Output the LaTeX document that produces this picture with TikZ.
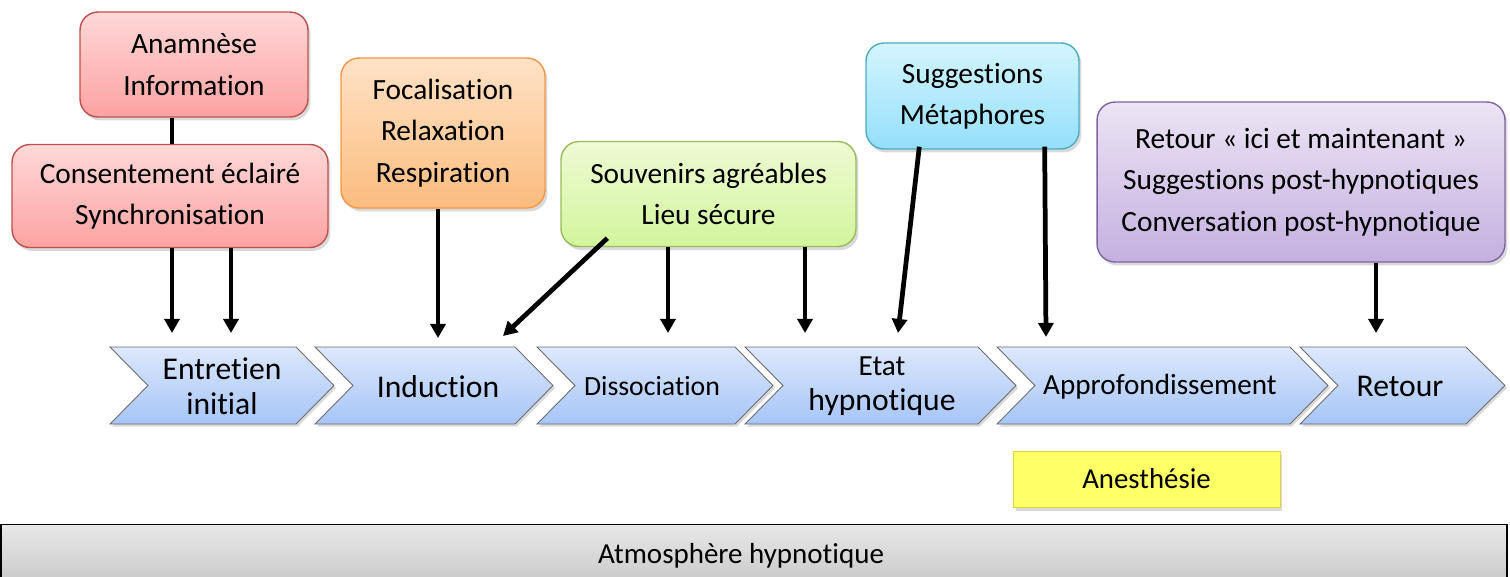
\documentclass[tikz,border=0pt]{standalone}
\usepackage{fontspec}
\setmainfont{Carlito}[Ligatures=NoCommon]
\usepackage{tikz}
\usetikzlibrary{positioning,shadows,arrows.meta,calc}
\usepackage{xcolor}
\definecolor{rougeH}{HTML}{FFD8D8}
\definecolor{rougeB}{HTML}{FCA2A2}
\definecolor{rougeT}{HTML}{C0504D}
\definecolor{orangeH}{HTML}{FFE2C6}
\definecolor{orangeB}{HTML}{FBBC7E}
\definecolor{orangeT}{HTML}{F79646}
\definecolor{vertH}{HTML}{EEFAD4}
\definecolor{vertB}{HTML}{D2F59C}
\definecolor{vertT}{HTML}{9BBB59}
\definecolor{cyanH}{HTML}{D4F5FF}
\definecolor{cyanB}{HTML}{94DFFA}
\definecolor{cyanT}{HTML}{4BACC6}
\definecolor{violetH}{HTML}{ECE4F4}
\definecolor{violetB}{HTML}{C4B0E0}
\definecolor{violetT}{HTML}{8064A2}
\definecolor{bleuH}{HTML}{DDE8FC}
\definecolor{bleuB}{HTML}{A6C5F7}
\definecolor{jaune}{HTML}{FFFF66}
\tikzstyle{bloc}=[rectangle, rounded corners=0.36cm, line width=0.8pt, inner sep=0pt,
text centered, align=center, font=\fontsize{16.7}{23.6}\selectfont,
drop shadow={opacity=0.3, shadow xshift=0.05cm, shadow yshift=-0.07cm}]
\tikzstyle{chevron}=[draw=gray!85!black, line width=0.5pt, top color=bleuH, bottom color=bleuB,
drop shadow={opacity=0.3, shadow xshift=0.04cm, shadow yshift=-0.05cm}]
\tikzstyle{etape}=[inner sep=0pt, align=center, font=\fontsize{18}{20}\selectfont]
\tikzstyle{fleche}=[->, >={Triangle[length=8pt,width=8.5pt]}, line width=2.7pt]

\begin{document}
\begin{tikzpicture}[x=0.02cm, y=-0.02cm]
        \useasboundingbox (0,0) rectangle (1510,576);

        % bandeau du bas
        \node (atmo)[draw=black, line width=0.8pt, top color=gray!18, bottom color=gray!45,
                minimum width=30.12cm, minimum height=1.3cm, font=\fontsize{16.5}{20}\selectfont]
                at (754,557) {};
        \node (atmot)[font=\fontsize{16.5}{20}\selectfont] at (741,556) {Atmosphère hypnotique};

        % etapes
        \draw[chevron] (110,347) -- (296,347) -- (334,385.5) -- (296,424) -- (110,424) -- (148,385.5) -- cycle;
        \draw[chevron] (315,347) -- (515,347) -- (553,385.5) -- (515,424) -- (315,424) -- (353,385.5) -- cycle;
        \draw[chevron] (537,347) -- (735,347) -- (773,385.5) -- (735,424) -- (537,424) -- (575,385.5) -- cycle;
        \draw[chevron] (745,347) -- (978,347) -- (1016,385.5) -- (978,424) -- (745,424) -- (783,385.5) -- cycle;
        \draw[chevron] (997,347) -- (1290,347) -- (1328,385.5) -- (1290,424) -- (997,424) -- (1035,385.5) -- cycle;
        \draw[chevron] (1300,347) -- (1466,347) -- (1505,385.5) -- (1466,424) -- (1300,424) -- (1338,385.5) -- cycle;

        \node (e1)[etape] at (222,386.5) {Entretien\\initial};
        \node (e2)[etape] at (438,386.5) {Induction};
        \node (e3)[etape, font=\fontsize{15.8}{20}\selectfont] at (652,386.5) {Dissociation};
        \node (e4)[etape] at (882,386.5) {{\fontsize{16.6}{20}\selectfont Etat}\\hypnotique};
        \node (e5)[etape, font=\fontsize{16.6}{20}\selectfont] at (1160,386.5) {Approfondissement};
        \node (e6)[etape] at (1400,386.5) {Retour};

        % blocs
        \node (anam)[bloc, draw=rougeT, top color=rougeH, bottom color=rougeB,
                minimum width=4.56cm, minimum height=2.1cm] at (194,64.5)
                {Anamnèse\\Information};
        \node (cons)[bloc, draw=rougeT, top color=rougeH, bottom color=rougeB,
                minimum width=6.32cm, minimum height=2.06cm] at (170,196)
                {Consentement éclairé\\Synchronisation};
        \node (foca)[bloc, draw=orangeT, top color=orangeH, bottom color=orangeB,
                minimum width=4.08cm, minimum height=3cm] at (443,133)
                {Focalisation\\Relaxation\\Respiration};
        \node (souv)[bloc, draw=vertT, top color=vertH, bottom color=vertB,
                minimum width=5.9cm, minimum height=2.1cm] at (708.5,194)
                {Souvenirs agréables\\Lieu sécure};
        \node (sugg)[bloc, draw=cyanT, top color=cyanH, bottom color=cyanB,
                minimum width=4.26cm, minimum height=2.12cm] at (972.5,96)
                {Suggestions\\Métaphores};
        \node (ret)[bloc, draw=violetT, top color=violetH, bottom color=violetB,
                minimum width=8.16cm, minimum height=3.2cm] at (1301,182)
                {Retour « ici et maintenant »\\Suggestions post-hypnotiques\\Conversation post-hypnotique};
        \node (anes)[bloc, rounded corners=0pt, draw=yellow!70!gray, fill=jaune, line width=0.5pt,
                font=\fontsize{16.4}{20}\selectfont,
                minimum width=5.34cm, minimum height=1.12cm] at (1146.5,479)
                {Anesthésie};

        % pointes des fleches
        \coordinate (a1) at (172,333);
        \coordinate (a2) at (231,333);
        \coordinate (a3) at (438,338);
        \coordinate (a4) at (503,336);
        \coordinate (a5) at (668,333);
        \coordinate (a6) at (805,333);
        \coordinate (a7) at (898,333);
        \coordinate (a8) at (1046,337);
        \coordinate (a9) at (1376,333);

        \draw [line width=2.7pt] (anam.south -| a1) -- (cons.north -| a1);
        \draw [fleche] (cons.south -| a1) -- (a1);
        \draw [fleche] (cons.south -| a2) -- (a2);
        \draw [fleche] (foca.south -| a3) -- (a3);
        \draw [fleche] ($(souv.south west)+(47,-9)$) -- (a4);
        \draw [fleche] (souv.south -| a5) -- (a5);
        \draw [fleche] (souv.south -| a6) -- (a6);
        \draw [fleche] ($(sugg.south west)+(54,-3)$) -- (a7);
        \draw [fleche] ($(sugg.south east)+(-35,-3)$) -- (a8);
        \draw [fleche] (ret.south -| a9) -- (a9);
\end{tikzpicture}
\end{document}
